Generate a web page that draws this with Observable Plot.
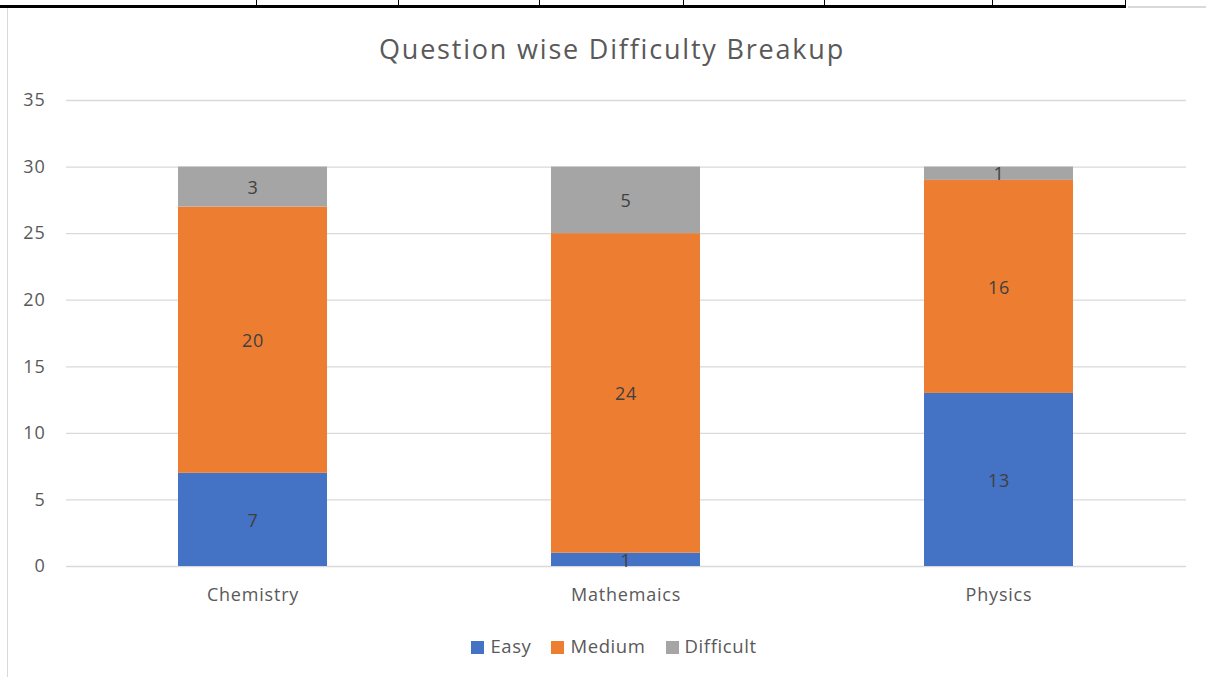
<!DOCTYPE html>
<html><head><meta charset="utf-8">
<script src="https://cdn.jsdelivr.net/npm/d3@7"></script>
<script src="https://cdn.jsdelivr.net/npm/@observablehq/plot@0.6"></script>
<style>
body{margin:0;background:#fff;font-family:"Open Sans",sans-serif;}
#wrap{position:relative;width:1206px;height:677px;overflow:hidden;}
.ln{position:absolute;background:#000;}
#title{position:absolute;left:0;width:1224px;top:30px;text-align:center;font-size:27px;letter-spacing:1.8px;color:#595959;}
#legend{position:absolute;left:0;width:1228px;top:633px;text-align:center;font-size:18.5px;letter-spacing:0.6px;color:#595959;}
#legend span.sw{display:inline-block;width:13px;height:13px;margin-right:6px;vertical-align:-1px;}
#legend span.it{margin:0 10px;}
#chart{position:absolute;left:0;top:0;}
</style></head><body>
<div id="wrap">
  <div class="ln" style="left:0;top:5px;width:1126px;height:3px"></div>
  <div class="ln" style="left:256px;top:0;width:1px;height:6px"></div>
  <div class="ln" style="left:398px;top:0;width:1px;height:6px"></div>
  <div class="ln" style="left:539px;top:0;width:1px;height:6px"></div>
  <div class="ln" style="left:683px;top:0;width:1px;height:6px"></div>
  <div class="ln" style="left:824px;top:0;width:1px;height:6px"></div>
  <div class="ln" style="left:992px;top:0;width:1px;height:6px"></div>
  <div class="ln" style="left:1125px;top:0;width:1px;height:8px"></div>
  <div class="ln" style="left:1128px;top:6px;width:78px;height:2px;background:#d9d9d9"></div>
  <div class="ln" style="left:7px;top:8px;width:1px;height:669px;background:#d9d9d9"></div>
  <div id="chart"></div>
  <div id="title">Question wise Difficulty Breakup</div>
  <div id="legend"></div>
</div>
<script>
const subjects = ["Chemistry", "Mathemaics", "Physics"];
const levels = ["Easy", "Medium", "Difficult"];
const easy = [7, 1, 13];
const medium = [20, 24, 16];
const difficult = [3, 5, 1];
const colors = ["#4472C4", "#ED7D31", "#A5A5A5"];
const yTicks = [0, 5, 10, 15, 20, 25, 30, 35];

const series = [easy, medium, difficult];
const data = [];
levels.forEach((lv, i) => subjects.forEach((s, j) => data.push({subject: s, level: lv, value: series[i][j]})));

const chart = Plot.plot({
  width: 1206, height: 677,
  marginTop: 100, marginBottom: 111, marginLeft: 66, marginRight: 20,
  style: {fontFamily: "'Open Sans', sans-serif", fontSize: "18px", color: "#595959", letterSpacing: "0.8px"},
  x: {domain: subjects, paddingInner: 0.6, paddingOuter: 0.3, label: null, tickSize: 0, tickPadding: 22},
  y: {domain: [0, 35], ticks: yTicks, label: null, tickSize: 0, tickPadding: 21},
  color: {domain: levels, range: colors},
  marks: [
    Plot.ruleY(yTicks, {stroke: "#d9d9d9", strokeWidth: 1.3}),
    Plot.barY(data, Plot.stackY({x: "subject", y: "value", fill: "level", z: "level", order: levels})),
    Plot.text(data, Plot.stackY({x: "subject", y: "value", z: "level", order: levels, text: d => String(d.value), fill: "#404040", fontSize: 18, dy: 1}))
  ]
});
document.getElementById("chart").appendChild(chart);

const lg = document.getElementById("legend");
levels.forEach((lv, i) => {
  const it = document.createElement("span");
  it.className = "it";
  it.innerHTML = `<span class="sw" style="background:${colors[i]}"></span>${lv}`;
  lg.appendChild(it);
});
</script>
</body></html>
